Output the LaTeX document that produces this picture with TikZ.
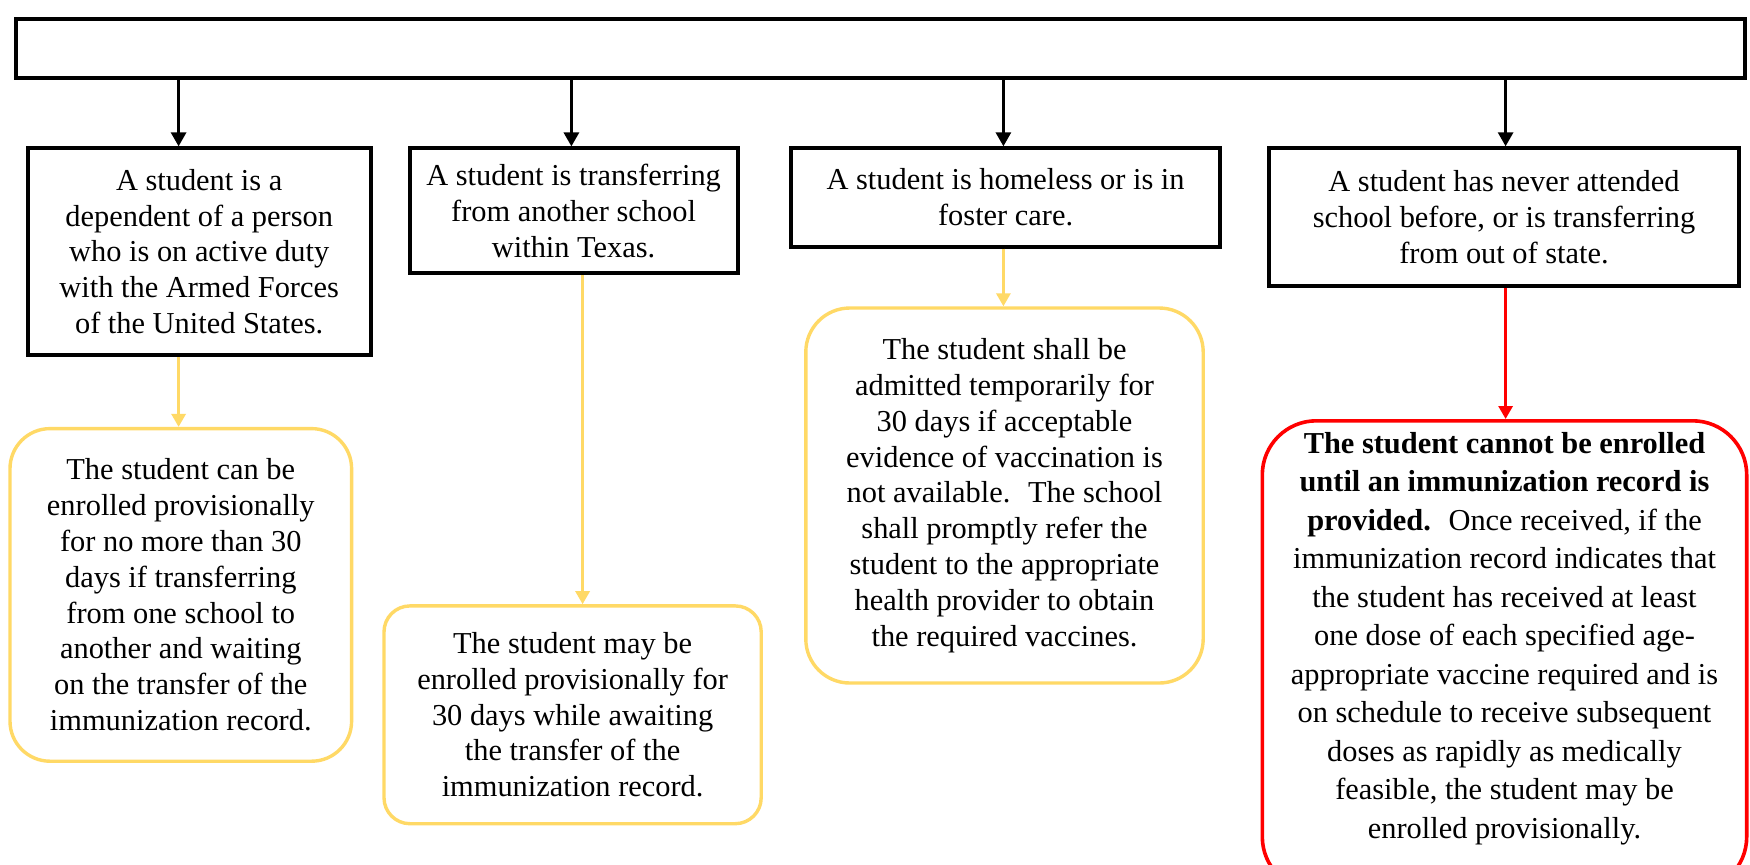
\documentclass[tikz,border=0pt]{standalone}
\usepackage{fontspec}
\setmainfont{Liberation Serif}
\usetikzlibrary{arrows.meta}
\definecolor{resyellow}{HTML}{FFD966}
\definecolor{resred}{HTML}{FF0000}
\tikzset{
  txt/.style={align=center, inner sep=0pt, font=\fontsize{15.2pt}{17.9pt}\selectfont},
  condbox/.style={txt, draw=black, line width=2pt},
  yelbox/.style={txt, draw=resyellow, line width=1.7pt},
  redbox/.style={draw=resred, line width=1.8pt, inner sep=0pt},
  blkarr/.style={draw=black, line width=1.5pt, -{Triangle[width=7.5pt,length=7pt]}},
  yelarr/.style={draw=resyellow, line width=1.5pt, -{Triangle[width=7pt,length=6.5pt]}},
  redarr/.style={draw=resred, line width=1.5pt, -{Triangle[width=7pt,length=6.5pt]}},
}
\begin{document}
\begin{tikzpicture}[x=0.5pt,y=-0.5pt]
\useasboundingbox (0,0) rectangle (1750,864);
\clip (0,0) rectangle (1750,864);
\fill[white] (0,0) rectangle (1750,864);

% top bar
\node[draw=black, line width=2pt, inner sep=0pt, minimum width=864.5pt, minimum height=29.5pt] (top) at (880,48.5) {};

% condition boxes
\node[condbox, minimum width=171.3pt, minimum height=103.25pt] (c1) at (199.2,251.6)
  {A student is a\\dependent of a person\\who is on active duty\\with the Armed Forces\\of the United States.};
\node[condbox, minimum width=164pt, minimum height=62.5pt] (c2) at (573.6,210.9)
  {A student is transferring\\from another school\\within Texas.};
\node[condbox, minimum width=214.3pt, minimum height=49.2pt] (c3) at (1005.6,197.5)
  {A student is homeless or is in\\foster care.};
\node[condbox, minimum width=235pt, minimum height=68.7pt] (c4) at (1504,217)
  {A student has never attended\\school before, or is transferring\\from out of state.};

% result boxes
\node[yelbox, rounded corners=20pt, minimum width=170.8pt, minimum height=166.3pt] (y1) at (180.8,594.9)
  {The student can be\\enrolled provisionally\\for no more than 30\\days if transferring\\from one school to\\another and waiting\\on the transfer of the\\immunization record.};
\node[yelbox, rounded corners=13pt, minimum width=188.6pt, minimum height=108.9pt] (y2) at (572.6,714.8)
  {The student may be\\enrolled provisionally for\\30 days while awaiting\\the transfer of the\\immunization record.};
\node[yelbox, rounded corners=22pt, minimum width=198.7pt, minimum height=187.5pt] (y3) at (1004.5,495.5)
  {The student shall be\\admitted temporarily for\\30 days if acceptable\\evidence of vaccination is\\not available.~ The school\\shall promptly refer the\\student to the appropriate\\health provider to obtain\\the required vaccines.};
\node[redbox, rounded corners=27pt, minimum width=242.2pt, minimum height=235pt] (r) at (1504.5,655.8) {};
\node[txt, font=\fontsize{15.2pt}{19.25pt}\selectfont] (rtext) at (1504.5,638.5)
  {\textbf{The student cannot be enrolled}\\\textbf{until an immunization record is}\\\textbf{provided.}~ Once received, if the\\immunization record indicates that\\the student has received at least\\one dose of each specified age-\\appropriate vaccine required and is\\on schedule to receive subsequent\\doses as rapidly as medically\\feasible, the student may be\\enrolled provisionally.};

% arrow columns
\coordinate (a1) at (178.6,0);
\coordinate (a2) at (571.4,0);
\coordinate (a3) at (1003.4,0);
\coordinate (a4) at (1505.6,0);
\coordinate (b2) at (582.6,0);

\draw[blkarr] (top.south -| a1) -- (c1.north -| a1);
\draw[blkarr] (top.south -| a2) -- (c2.north -| a2);
\draw[blkarr] (top.south -| a3) -- (c3.north -| a3);
\draw[blkarr] (top.south -| a4) -- (c4.north -| a4);

\draw[yelarr] (c1.south -| a1) -- (y1.north -| a1);
\draw[yelarr] (c2.south -| b2) -- (y2.north -| b2);
\draw[yelarr] (c3.south -| a3) -- (y3.north -| a3);
\draw[redarr] (c4.south -| a4) -- (r.north -| a4);
\end{tikzpicture}
\end{document}
